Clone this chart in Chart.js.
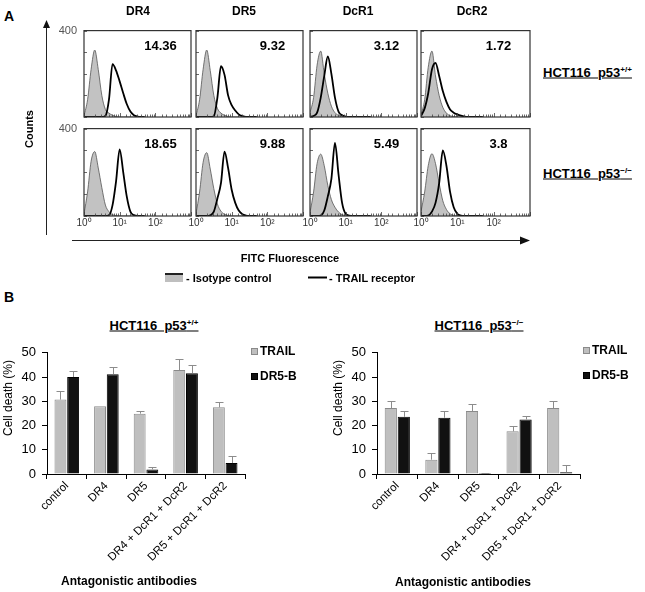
<!DOCTYPE html>
<html>
<head>
<meta charset="utf-8">
<script src="https://cdn.jsdelivr.net/npm/chart.js@4.4.0/dist/chart.umd.min.js"></script>
<style>
  body { margin: 0; width: 645px; height: 592px; position: relative; overflow: hidden; background: #fff;
         font-family: Arial, "Liberation Sans", sans-serif; }
  canvas { position: absolute; }
  .t { position: absolute; white-space: nowrap; line-height: 1; color: #000; }
  .t sup { font-size: 0.62em; vertical-align: 0.55em; line-height: 0; }
</style>
</head>
<body>
<svg width="645" height="592" style="position:absolute;left:0;top:0">
  <line x1="46.5" y1="26" x2="46.5" y2="235" stroke="#222" stroke-width="1"/>
  <polygon points="46.5,20 43,28 50,28" fill="#111"/>
  <line x1="72" y1="240.5" x2="521" y2="240.5" stroke="#222" stroke-width="1"/>
  <polygon points="530,240.5 520,236.5 520,244.5" fill="#111"/>
  <rect x="165" y="273" width="18" height="9" fill="#bfbfbf"/>
  <line x1="165" y1="274" x2="183" y2="274" stroke="#222" stroke-width="2"/>
  <line x1="308" y1="277.5" x2="327" y2="277.5" stroke="#000" stroke-width="2"/>
</svg>
<script>
// panel A: flow cytometry histograms
var markers = ["DR4", "DR5", "DcR1", "DcR2"];
var mfiWt = ["14.36", "9.32", "3.12", "1.72"];
var mfiKo = ["18.65", "9.88", "5.49", "3.8"];
var fluorBins = [1, 1.26, 1.58, 2, 2.51, 3.16, 3.98, 5.01, 6.31, 7.94, 10, 12.6, 15.8, 20, 25.1, 31.6, 39.8, 50.1];

// counts per bin, HCT116 p53+/+
var isoWtDR4  = [5, 80, 220, 310, 220, 100, 35, 18, 8, 2, 0, 0, 0, 0, 0, 0, 0, 0];
var recWtDR4  = [0, 0, 0, 0, 0, 0, 5, 80, 245, 215, 165, 110, 60, 25, 8, 2, 0, 0];
var isoWtDR5  = [5, 80, 220, 310, 215, 100, 40, 18, 8, 2, 0, 0, 0, 0, 0, 0, 0, 0];
var recWtDR5  = [0, 0, 0, 0, 0, 3, 90, 235, 195, 100, 55, 30, 12, 4, 0, 0, 0, 0];
var isoWtDcR1 = [20, 90, 240, 305, 200, 110, 50, 20, 8, 3, 0, 0, 0, 0, 0, 0, 0, 0];
var recWtDcR1 = [0, 5, 20, 90, 190, 280, 200, 90, 25, 8, 2, 0, 0, 0, 0, 0, 0, 0];
var isoWtDcR2 = [10, 80, 230, 305, 190, 100, 45, 18, 6, 2, 0, 0, 0, 0, 0, 0, 0, 0];
var recWtDcR2 = [5, 40, 110, 220, 250, 190, 120, 70, 35, 20, 12, 6, 2, 0, 0, 0, 0, 0];

// counts per bin, HCT116 p53-/-
var isoKoDR4  = [10, 110, 250, 295, 220, 130, 50, 20, 6, 2, 0, 0, 0, 0, 0, 0, 0, 0];
var recKoDR4  = [0, 0, 0, 0, 0, 0, 0, 3, 50, 160, 305, 200, 90, 20, 4, 0, 0, 0];
var isoKoDR5  = [10, 110, 245, 290, 215, 125, 55, 22, 8, 2, 0, 0, 0, 0, 0, 0, 0, 0];
var recKoDR5  = [0, 0, 0, 0, 3, 20, 80, 150, 295, 220, 120, 60, 25, 8, 2, 0, 0, 0];
var isoKoDcR1 = [15, 110, 240, 283, 230, 140, 75, 40, 18, 6, 2, 0, 0, 0, 0, 0, 0, 0];
var recKoDcR1 = [0, 0, 0, 2, 25, 90, 170, 335, 190, 60, 10, 2, 0, 0, 0, 0, 0, 0];
var isoKoDcR2 = [20, 110, 230, 285, 240, 150, 70, 30, 10, 3, 0, 0, 0, 0, 0, 0, 0, 0];
var recKoDcR2 = [0, 0, 2, 20, 60, 150, 300, 230, 110, 40, 10, 2, 0, 0, 0, 0, 0, 0];

// panel B: cell death (%)
var antibodies = ["control", "DR4", "DR5", "DR4 + DcR1 + DcR2", "DR5 + DcR1 + DcR2"];
var wtTrail    = [30.7, 28.0, 24.9, 42.9, 27.5];
var wtTrailErr = [3.6, 0, 1.2, 4.4, 2.4];
var wtDr5b     = [40.0, 41.2, 1.9, 41.6, 4.5];
var wtDr5bErr  = [2.5, 3.1, 0.8, 3.3, 3.1];
var koTrail    = [27.2, 5.9, 26.0, 17.6, 27.2];
var koTrailErr = [3.1, 2.8, 2.9, 2.0, 3.1];
var koDr5b     = [23.6, 23.2, 0.4, 22.5, 0.7];
var koDr5bErr  = [2.4, 2.7, 0.2, 1.4, 2.9];

Chart.defaults.font.family = 'Arial, "Liberation Sans", sans-serif';
Chart.defaults.color = '#000';

function text(html, x, y, css, align) {
  var d = document.createElement('div');
  d.className = 't';
  d.innerHTML = html;
  var tr = align === 'left' ? 'translate(0,-50%)' : 'translate(-50%,-50%)';
  d.style.cssText = 'left:' + x + 'px;top:' + y + 'px;transform:' + tr + ';' + (css || '');
  document.body.appendChild(d);
  return d;
}

function makeCanvas(x, y, w, h) {
  var c = document.createElement('canvas');
  c.width = w; c.height = h;
  c.style.left = x + 'px'; c.style.top = y + 'px';
  c.style.width = w + 'px'; c.style.height = h + 'px';
  document.body.appendChild(c);
  return c;
}

function xy(counts) {
  return fluorBins.map(function (b, i) { return { x: b, y: counts[i] }; });
}

// frame, inward ticks and the MFI value of each histogram
var histFrame = {
  id: 'histFrame',
  afterDraw: function (chart, args, opts) {
    var a = chart.chartArea, ctx = chart.ctx, xs = chart.scales.x, ys = chart.scales.y;
    ctx.save();
    ctx.strokeStyle = '#444';
    ctx.lineWidth = 0.8;
    ctx.beginPath();
    xs.ticks.forEach(function (t) {
      var px = Math.round(xs.getPixelForValue(t.value)) + 0.5;
      var lg = Math.log10(t.value);
      var len = Math.abs(lg - Math.round(lg)) < 1e-6 ? 4 : 2.5;
      ctx.moveTo(px, a.bottom);
      ctx.lineTo(px, a.bottom - len);
    });
    ys.ticks.forEach(function (t) {
      var py = Math.round(ys.getPixelForValue(t.value)) + 0.5;
      ctx.moveTo(a.left, py);
      ctx.lineTo(a.left + 3, py);
    });
    ctx.stroke();
    ctx.strokeStyle = '#333';
    ctx.lineWidth = 1.2;
    ctx.strokeRect(a.left, a.top, a.right - a.left, a.bottom - a.top);
    ctx.fillStyle = '#000';
    ctx.font = 'bold 13px Arial, "Liberation Sans", sans-serif';
    ctx.textAlign = 'center';
    ctx.textBaseline = 'middle';
    ctx.fillText(opts.text, (a.left + a.right) / 2 + 23, a.top + 16);
    ctx.restore();
  }
};

var frameLeft = [84, 196, 310, 421], frameRight = [191, 303, 417, 530];
var frameTop = [25, 123], frameBottom = [117, 216];

function histChart(row, col, iso, rec, mfi) {
  var L = frameLeft[col], R = frameRight[col], T = frameTop[row], B = frameBottom[row];
  var showY = col === 0, showX = row === 1;
  var c = makeCanvas(L - 34, T - 8, R - L + 40, B - T + 26);
  new Chart(c, {
    type: 'line',
    data: {
      datasets: [
        { label: 'TRAIL receptor', data: xy(rec), fill: false, borderColor: '#000', borderWidth: 1.8,
          pointRadius: 0, cubicInterpolationMode: 'monotone' },
        { label: 'Isotype control', data: xy(iso), fill: 'origin', backgroundColor: '#c2c2c2',
          borderColor: '#555', borderWidth: 0.8, pointRadius: 0, cubicInterpolationMode: 'monotone' }
      ]
    },
    options: {
      responsive: false, animation: false, events: [],
      layout: { padding: { top: 8, right: 6, left: 0, bottom: 0 } },
      plugins: { legend: { display: false }, tooltip: { enabled: false }, histFrame: { text: mfi } },
      scales: {
        x: {
          type: 'logarithmic', min: 1, max: 1000,
          grid: { drawOnChartArea: false, drawTicks: false },
          border: { display: false },
          ticks: {
            autoSkip: false, maxRotation: 0, minRotation: 0, padding: 1, color: '#333', font: { size: 10 },
            callback: function (v) {
              if (!showX) return '';
              if (v === 1) return '10⁰';
              if (v === 10) return '10¹';
              if (v === 100) return '10²';
              return '';
            }
          },
          afterFit: function (s) { s.height = 18; }
        },
        y: {
          min: 0, max: 400,
          grid: { drawOnChartArea: false, drawTicks: false },
          border: { display: false },
          ticks: {
            stepSize: 100, padding: 7, color: '#555', font: { size: 11 },
            callback: function (v) { return showY && v === 400 ? '400' : ''; }
          },
          afterFit: function (s) { s.width = 34; }
        }
      }
    },
    plugins: [histFrame]
  });
}

histChart(0, 0, isoWtDR4, recWtDR4, mfiWt[0]);
histChart(0, 1, isoWtDR5, recWtDR5, mfiWt[1]);
histChart(0, 2, isoWtDcR1, recWtDcR1, mfiWt[2]);
histChart(0, 3, isoWtDcR2, recWtDcR2, mfiWt[3]);
histChart(1, 0, isoKoDR4, recKoDR4, mfiKo[0]);
histChart(1, 1, isoKoDR5, recKoDR5, mfiKo[1]);
histChart(1, 2, isoKoDcR1, recKoDcR1, mfiKo[2]);
histChart(1, 3, isoKoDcR2, recKoDcR2, mfiKo[3]);

// error bars (upper only) from the y scale
var errorBars = {
  id: 'errorBars',
  afterDatasetsDraw: function (chart) {
    var ctx = chart.ctx, ys = chart.scales.y;
    ctx.save();
    ctx.strokeStyle = '#8c8c8c';
    ctx.lineWidth = 1;
    chart.data.datasets.forEach(function (ds, i) {
      chart.getDatasetMeta(i).data.forEach(function (bar, j) {
        var e = ds.errors[j];
        if (!e) return;
        var top = Math.round(ys.getPixelForValue(ds.data[j] + e)) + 0.5;
        var x = Math.round(bar.x) + 0.5;
        ctx.beginPath();
        ctx.moveTo(x, bar.y);
        ctx.lineTo(x, top);
        ctx.moveTo(x - 4, top);
        ctx.lineTo(x + 4, top);
        ctx.stroke();
      });
    });
    ctx.restore();
  }
};

function barChart(left, width, trail, trailErr, dr5b, dr5bErr) {
  var c = makeCanvas(left, 339, width, 253);
  new Chart(c, {
    type: 'bar',
    data: {
      labels: antibodies,
      datasets: [
        { label: 'TRAIL', data: trail, errors: trailErr, backgroundColor: '#bfbfbf', borderColor: '#8a8a8a',
          borderWidth: 1, categoryPercentage: 0.64, barPercentage: 0.94 },
        { label: 'DR5-B', data: dr5b, errors: dr5bErr, backgroundColor: '#111', borderColor: '#000',
          borderWidth: 1, categoryPercentage: 0.64, barPercentage: 0.94 }
      ]
    },
    options: {
      responsive: false, animation: false, events: [],
      layout: { padding: { top: 10, right: 4, left: 0, bottom: 0 } },
      plugins: { legend: { display: false }, tooltip: { enabled: false } },
      scales: {
        x: {
          grid: { offset: true, drawOnChartArea: false, tickLength: 5, color: '#000' },
          border: { color: '#000' },
          ticks: { color: '#000', font: { size: 11.5 }, minRotation: 45, maxRotation: 45, autoSkip: false, padding: 0 },
          afterFit: function (s) { s.height = 118; }
        },
        y: {
          min: 0, max: 50,
          grid: { drawOnChartArea: false, tickLength: 5, color: '#000' },
          border: { color: '#000' },
          ticks: { stepSize: 10, color: '#000', font: { size: 13 }, padding: 6 },
          afterFit: function (s) { s.width = 47; }
        }
      }
    },
    plugins: [errorBars]
  });
}

barChart(0, 249, wtTrail, wtTrailErr, wtDr5b, wtDr5bErr);
barChart(330, 254, koTrail, koTrailErr, koDr5b, koDr5bErr);

// texts
var bold = 'font-weight:bold;';
text('A', 9, 16, bold + 'font-size:14px;');
text('B', 9, 297, bold + 'font-size:14px;');
var headX = [138, 244, 358, 472];
markers.forEach(function (m, i) { text(m, headX[i], 11, bold + 'font-size:12px;'); });
text('Counts', 28.5, 129, bold + 'font-size:11px;transform:translate(-50%,-50%) rotate(-90deg);');
text('HCT116&nbsp; p53<sup>+/+</sup>', 543, 72, bold + 'font-size:13px;text-decoration:underline;', 'left');
text('HCT116&nbsp; p53<sup>−/−</sup>', 543, 173, bold + 'font-size:13px;text-decoration:underline;', 'left');
text('FITC Fluorescence', 290, 258, bold + 'font-size:11px;');
text('- Isotype control', 186, 278, bold + 'font-size:11px;', 'left');
text('- TRAIL receptor', 329, 278, bold + 'font-size:11px;', 'left');

text('HCT116&nbsp; p53<sup>+/+</sup>', 154, 325, bold + 'font-size:13px;text-decoration:underline;');
text('HCT116&nbsp; p53<sup>−/−</sup>', 479, 325, bold + 'font-size:13px;text-decoration:underline;');
text('Cell death (%)', 8, 398, 'font-size:12px;transform:translate(-50%,-50%) rotate(-90deg);');
text('Cell death (%)', 338, 398, 'font-size:12px;transform:translate(-50%,-50%) rotate(-90deg);');
text('Antagonistic antibodies', 129, 581, bold + 'font-size:12px;');
text('Antagonistic antibodies', 463, 582, bold + 'font-size:12px;');

function legendItem(x, y, label, fill, border) {
  var b = document.createElement('div');
  b.style.cssText = 'position:absolute;left:' + x + 'px;top:' + (y - 3) + 'px;width:5px;height:5px;background:' +
    fill + ';border:1px solid ' + border + ';';
  document.body.appendChild(b);
  text(label, x + 9, y, bold + 'font-size:12px;', 'left');
}
legendItem(251, 350.5, 'TRAIL', '#bfbfbf', '#8a8a8a');
legendItem(251, 376, 'DR5-B', '#111', '#000');
legendItem(583, 349.5, 'TRAIL', '#bfbfbf', '#8a8a8a');
legendItem(583, 375, 'DR5-B', '#111', '#000');
</script>
</body>
</html>
